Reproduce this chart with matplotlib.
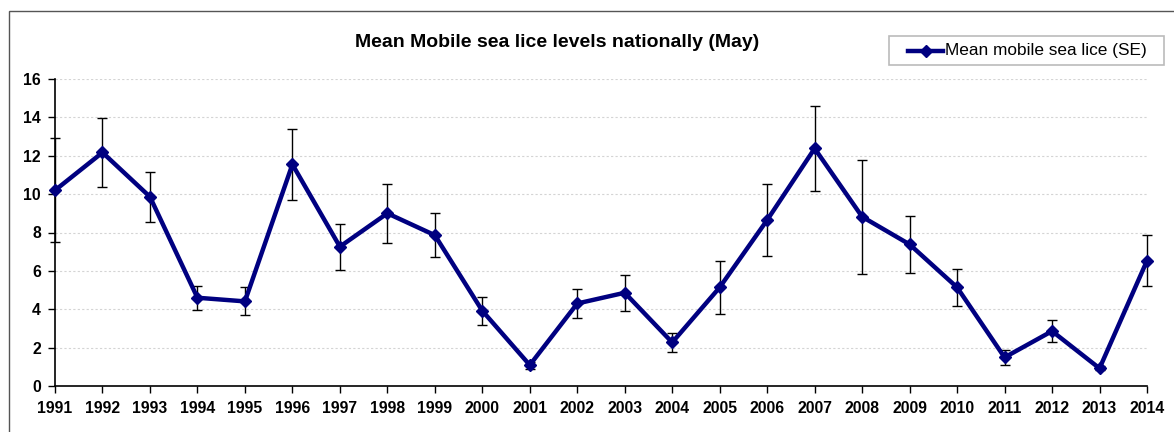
import matplotlib
matplotlib.use("Agg")
import matplotlib.pyplot as plt
from matplotlib.patches import Rectangle
from matplotlib.lines import Line2D

years = list(range(1991, 2015))
mean_lice = [10.2, 12.17, 9.86, 4.6, 4.41, 11.55, 7.26, 9.0, 7.86, 3.92, 1.09, 4.3,
             4.86, 2.27, 5.14, 8.65, 12.38, 8.82, 7.38, 5.14, 1.49, 2.86, 0.92, 6.53]
se = [2.7, 1.8, 1.3, 0.62, 0.73, 1.85, 1.2, 1.55, 1.15, 0.72, 0.18, 0.73,
      0.95, 0.5, 1.37, 1.9, 2.2, 2.97, 1.48, 0.95, 0.37, 0.58, 0.1, 1.32]
yticks = [0, 2, 4, 6, 8, 10, 12, 14, 16]
series_label = 'Mean mobile sea lice (SE)'
title = 'Mean Mobile sea lice levels nationally (May)'

plt.rcParams['font.family'] = ['Liberation Sans', 'DejaVu Sans']

W, H = 1174, 432
fig = plt.figure(figsize=(W / 100, H / 100), dpi=100)
ax = fig.add_axes([55 / W, 1 - 386 / H, (1147 - 55) / W, (386 - 79) / H])

# outer frame (left/top visible)
fig.patches.append(Rectangle((8.5 / W, -0.1), 1.2, 1 - 11 / H + 0.1, transform=fig.transFigure,
                             fill=False, edgecolor='#555555', linewidth=1.0))

ax.errorbar(years, mean_lice, yerr=se, fmt='none', ecolor='black', elinewidth=1.0,
            capsize=3.5, capthick=1.0, zorder=2, clip_on=False)
ax.plot(years, mean_lice, color='#000080', linewidth=3.2, marker='D', markersize=6,
        label=series_label, zorder=3, clip_on=False)

ax.set_xlim(1991, 2014)
ax.set_ylim(0, 16)
ax.set_xticks(years)
ax.set_xticklabels([str(y) for y in years], fontweight='bold', fontsize=11.3)
ax.set_yticks(yticks)
ax.set_yticklabels([str(v) for v in yticks], fontweight='bold', fontsize=11.3)
ax.tick_params(axis='both', direction='out', length=5, width=1, colors='black')
ax.tick_params(axis='x', pad=6)
ax.tick_params(axis='y', pad=5)

for s in ['top', 'right']:
    ax.spines[s].set_visible(False)
for s in ['left', 'bottom']:
    ax.spines[s].set_linewidth(1.2)

ax.yaxis.grid(True, linestyle=(0, (2, 2)), color='#d4d4d4', linewidth=0.8)
ax.set_axisbelow(True)

fig.text(557.5 / W, 1 - 42.5 / H, title,
         ha='center', va='center', fontweight='bold', fontsize=14)

# legend box
fig.patches.append(Rectangle((889 / W, 1 - 65 / H), (1164 - 889) / W, 29 / H,
                             transform=fig.transFigure, fill=False,
                             edgecolor='#bbbbbb', linewidth=1.2))
fig.lines.append(Line2D([908 / W, 943 / W], [1 - 50.5 / H, 1 - 50.5 / H],
                        transform=fig.transFigure, color='#000080', linewidth=3.2))
fig.lines.append(Line2D([925.5 / W], [1 - 50.5 / H], transform=fig.transFigure,
                        color='#000080', marker='D', markersize=6, linestyle='none'))
fig.text(945 / W, 1 - 50.5 / H, series_label, ha='left', va='center', fontsize=12.4)

fig.savefig('out.png', dpi=100)
